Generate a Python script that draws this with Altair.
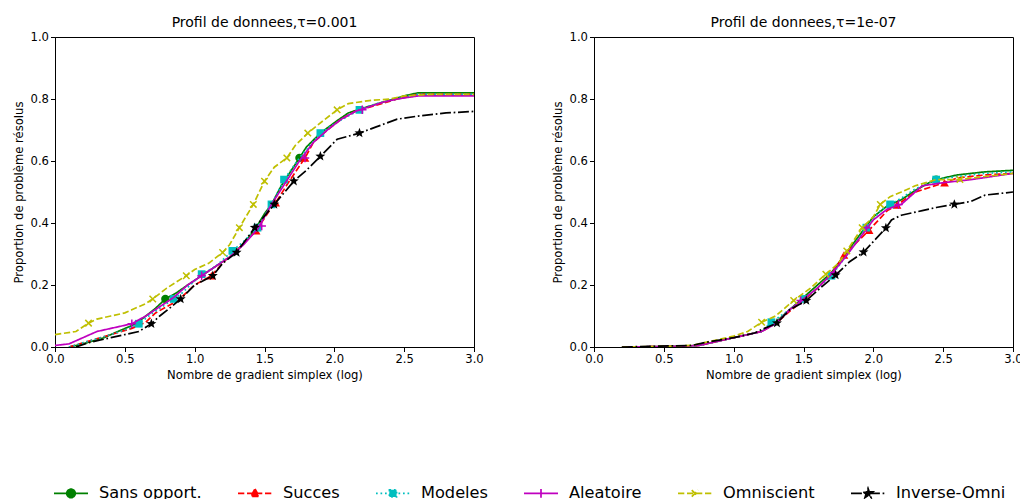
import math
import altair as alt
import pandas as pd

# ---------------- data ----------------
NAMES = ["Sans opport.", "Succes", "Modeles", "Aleatoire", "Omniscient", "Inverse-Omni"]
TITLES = ["Profil de donnees,\u03c4=0.001", "Profil de donnees,\u03c4=1e-07"]
X_TICKS = [0.0, 0.5, 1.0, 1.5, 2.0, 2.5, 3.0]
Y_TICKS = [0.0, 0.2, 0.4, 0.6, 0.8, 1.0]

# --- panel 1 (tau = 0.001) ---
P1_SANS_X = [0.1, 0.2, 0.35, 0.45, 0.58, 0.65, 0.72, 0.79, 0.87, 0.95, 1.05, 1.15, 1.25, 1.3, 1.38, 1.44, 1.5, 1.55, 1.62, 1.75, 1.8, 1.9, 2.02, 2.1, 2.2, 2.35, 2.5, 2.6, 3.0]
P1_SANS_Y = [0.0, 0.01, 0.03, 0.05, 0.075, 0.1, 0.125, 0.155, 0.175, 0.2, 0.23, 0.26, 0.29, 0.31, 0.35, 0.385, 0.43, 0.46, 0.52, 0.61, 0.645, 0.69, 0.73, 0.755, 0.77, 0.79, 0.81, 0.82, 0.82]
P1_SANS_MX = [0.79, 1.75]
P1_SANS_MY = [0.155, 0.61]

P1_SUCC_X = [0.1, 0.25, 0.4, 0.55, 0.65, 0.72, 0.88, 1.0, 1.12, 1.22, 1.3, 1.44, 1.55, 1.58, 1.67, 1.79, 1.85, 1.95, 2.05, 2.15, 2.3, 2.45, 2.6, 3.0]
P1_SUCC_Y = [0.0, 0.02, 0.04, 0.06, 0.08, 0.11, 0.15, 0.2, 0.23, 0.28, 0.31, 0.375, 0.45, 0.465, 0.53, 0.61, 0.66, 0.70, 0.735, 0.76, 0.78, 0.80, 0.815, 0.815]
P1_SUCC_MX = [1.12, 1.44, 1.58, 1.79]
P1_SUCC_MY = [0.23, 0.375, 0.465, 0.61]

P1_MOD_X = [0.1, 0.25, 0.4, 0.5, 0.6, 0.7, 0.8, 0.9, 1.05, 1.15, 1.27, 1.35, 1.45, 1.55, 1.64, 1.75, 1.9, 2.0, 2.1, 2.18, 2.3, 2.45, 2.6, 3.0]
P1_MOD_Y = [0.0, 0.02, 0.04, 0.055, 0.075, 0.11, 0.14, 0.17, 0.235, 0.26, 0.31, 0.34, 0.385, 0.46, 0.54, 0.61, 0.69, 0.72, 0.745, 0.765, 0.785, 0.80, 0.815, 0.815]
P1_MOD_MX = [0.6, 0.85, 1.05, 1.27, 1.45, 1.55, 1.64, 1.9, 2.18]
P1_MOD_MY = [0.075, 0.155, 0.235, 0.31, 0.385, 0.46, 0.54, 0.69, 0.765]

P1_ALEA_X = [0.0, 0.1, 0.2, 0.3, 0.4, 0.55, 0.65, 0.75, 0.85, 0.95, 1.05, 1.15, 1.25, 1.35, 1.45, 1.55, 1.65, 1.75, 1.85, 1.95, 2.05, 2.15, 2.25, 2.35, 2.45, 2.6, 3.0]
P1_ALEA_Y = [0.005, 0.01, 0.03, 0.05, 0.06, 0.075, 0.1, 0.13, 0.16, 0.2, 0.23, 0.26, 0.29, 0.33, 0.38, 0.46, 0.53, 0.6, 0.66, 0.70, 0.735, 0.76, 0.775, 0.79, 0.80, 0.81, 0.81]
P1_ALEA_MX = [0.55, 1.05, 1.48, 1.79, 2.2]
P1_ALEA_MY = [0.075, 0.23, 0.39, 0.61, 0.765]

P1_OMNI_X = [0.0, 0.15, 0.24, 0.3, 0.4, 0.5, 0.55, 0.65, 0.7, 0.8, 0.87, 0.94, 1.0, 1.1, 1.2, 1.25, 1.32, 1.42, 1.5, 1.57, 1.66, 1.72, 1.81, 1.92, 2.02, 2.1, 2.25, 2.4, 2.5, 2.7, 3.0]
P1_OMNI_Y = [0.04, 0.05, 0.077, 0.09, 0.1, 0.11, 0.12, 0.14, 0.155, 0.19, 0.21, 0.23, 0.25, 0.27, 0.305, 0.33, 0.385, 0.46, 0.535, 0.58, 0.61, 0.65, 0.69, 0.73, 0.765, 0.785, 0.795, 0.80, 0.81, 0.815, 0.815]
P1_OMNI_MX = [0.24, 0.7, 0.94, 1.2, 1.32, 1.42, 1.5, 1.66, 1.81, 2.02]
P1_OMNI_MY = [0.077, 0.155, 0.23, 0.305, 0.385, 0.46, 0.535, 0.61, 0.69, 0.765]

P1_INV_X = [0.15, 0.25, 0.4, 0.5, 0.6, 0.69, 0.75, 0.82, 0.9, 1.0, 1.13, 1.2, 1.3, 1.43, 1.57, 1.71, 1.8, 1.9, 2.02, 2.18, 2.3, 2.45, 2.6, 2.8, 3.0]
P1_INV_Y = [0.0, 0.015, 0.03, 0.04, 0.05, 0.075, 0.1, 0.125, 0.155, 0.2, 0.23, 0.27, 0.305, 0.385, 0.46, 0.535, 0.57, 0.615, 0.67, 0.69, 0.71, 0.735, 0.745, 0.755, 0.76]
P1_INV_MX = [0.69, 0.9, 1.13, 1.3, 1.43, 1.57, 1.71, 1.9, 2.18]
P1_INV_MY = [0.075, 0.155, 0.23, 0.305, 0.385, 0.46, 0.535, 0.615, 0.69]

# --- panel 2 (tau = 1e-07) ---
P2_SANS_X = [0.2, 0.6, 0.75, 0.9, 1.0, 1.1, 1.2, 1.3, 1.4, 1.5, 1.6, 1.7, 1.8, 1.9, 2.0, 2.1, 2.2, 2.3, 2.4, 2.5, 2.6, 2.8, 3.0]
P2_SANS_Y = [0.0, 0.002, 0.005, 0.02, 0.03, 0.04, 0.05, 0.08, 0.12, 0.16, 0.2, 0.24, 0.3, 0.36, 0.42, 0.455, 0.475, 0.505, 0.53, 0.545, 0.555, 0.565, 0.57]
P2_SANS_MX = [2.45]
P2_SANS_MY = [0.54]

P2_SUCC_X = [0.2, 0.6, 0.75, 0.9, 1.0, 1.1, 1.2, 1.3, 1.4, 1.5, 1.6, 1.7, 1.79, 1.97, 2.1, 2.17, 2.3, 2.51, 2.6, 2.8, 3.0]
P2_SUCC_Y = [0.0, 0.002, 0.005, 0.02, 0.03, 0.04, 0.05, 0.075, 0.115, 0.15, 0.19, 0.235, 0.297, 0.377, 0.44, 0.458, 0.5, 0.53, 0.545, 0.555, 0.56]
P2_SUCC_MX = [1.79, 1.97, 2.17, 2.51]
P2_SUCC_MY = [0.297, 0.377, 0.458, 0.53]

P2_MOD_X = [0.2, 0.6, 0.75, 0.9, 1.0, 1.1, 1.2, 1.27, 1.4, 1.5, 1.6, 1.7, 1.8, 1.95, 2.05, 2.12, 2.2, 2.3, 2.45, 2.6, 2.8, 3.0]
P2_MOD_Y = [0.0, 0.002, 0.005, 0.02, 0.03, 0.04, 0.05, 0.08, 0.12, 0.155, 0.19, 0.23, 0.29, 0.385, 0.44, 0.46, 0.48, 0.51, 0.54, 0.55, 0.56, 0.565]
P2_MOD_MX = [1.27, 1.5, 1.7, 1.95, 2.12, 2.45]
P2_MOD_MY = [0.08, 0.155, 0.23, 0.385, 0.46, 0.54]

P2_ALEA_X = [0.2, 0.6, 0.75, 0.9, 1.0, 1.1, 1.2, 1.3, 1.4, 1.5, 1.6, 1.7, 1.8, 1.9, 2.0, 2.1, 2.2, 2.35, 2.5, 2.7, 3.0]
P2_ALEA_Y = [0.0, 0.002, 0.005, 0.02, 0.03, 0.04, 0.05, 0.075, 0.12, 0.155, 0.19, 0.235, 0.29, 0.35, 0.41, 0.445, 0.46, 0.52, 0.53, 0.54, 0.56]
P2_ALEA_MX = [1.48, 1.72, 1.95, 2.18]
P2_ALEA_MY = [0.15, 0.24, 0.385, 0.46]

P2_OMNI_X = [0.2, 0.5, 0.7, 0.8, 0.9, 1.0, 1.1, 1.2, 1.3, 1.43, 1.55, 1.66, 1.75, 1.81, 1.92, 2.0, 2.05, 2.12, 2.2, 2.3, 2.45, 2.62, 2.8, 3.0]
P2_OMNI_Y = [0.0, 0.002, 0.005, 0.015, 0.025, 0.035, 0.05, 0.08, 0.1, 0.15, 0.19, 0.235, 0.27, 0.31, 0.385, 0.42, 0.46, 0.485, 0.5, 0.52, 0.54, 0.54, 0.55, 0.56]
P2_OMNI_MX = [1.2, 1.43, 1.66, 1.81, 1.92, 2.05, 2.62]
P2_OMNI_MY = [0.08, 0.15, 0.235, 0.31, 0.385, 0.46, 0.54]

P2_INV_X = [0.2, 0.7, 0.8, 1.0, 1.15, 1.22, 1.31, 1.4, 1.52, 1.62, 1.73, 1.83, 1.93, 2.0, 2.09, 2.13, 2.2, 2.35, 2.45, 2.58, 2.7, 2.8, 3.0]
P2_INV_Y = [0.0, 0.005, 0.015, 0.03, 0.045, 0.06, 0.077, 0.12, 0.15, 0.19, 0.232, 0.275, 0.306, 0.34, 0.384, 0.41, 0.425, 0.44, 0.45, 0.46, 0.47, 0.49, 0.5]
P2_INV_MX = [1.31, 1.52, 1.73, 1.93, 2.09, 2.58]
P2_INV_MY = [0.077, 0.15, 0.232, 0.306, 0.384, 0.46]

PANEL1 = [
    (P1_SANS_X, P1_SANS_Y, P1_SANS_MX, P1_SANS_MY),
    (P1_SUCC_X, P1_SUCC_Y, P1_SUCC_MX, P1_SUCC_MY),
    (P1_MOD_X, P1_MOD_Y, P1_MOD_MX, P1_MOD_MY),
    (P1_ALEA_X, P1_ALEA_Y, P1_ALEA_MX, P1_ALEA_MY),
    (P1_OMNI_X, P1_OMNI_Y, P1_OMNI_MX, P1_OMNI_MY),
    (P1_INV_X, P1_INV_Y, P1_INV_MX, P1_INV_MY),
]
PANEL2 = [
    (P2_SANS_X, P2_SANS_Y, P2_SANS_MX, P2_SANS_MY),
    (P2_SUCC_X, P2_SUCC_Y, P2_SUCC_MX, P2_SUCC_MY),
    (P2_MOD_X, P2_MOD_Y, P2_MOD_MX, P2_MOD_MY),
    (P2_ALEA_X, P2_ALEA_Y, P2_ALEA_MX, P2_ALEA_MY),
    (P2_OMNI_X, P2_OMNI_Y, P2_OMNI_MX, P2_OMNI_MY),
    (P2_INV_X, P2_INV_Y, P2_INV_MX, P2_INV_MY),
]

# ---------------- styles ----------------
COLORS = ["#008000", "#ff0000", "#00bfbf", "#bf00bf", "#bfbf00", "#000000"]
LW = 1.7
DASHES = [[1, 0], [6.3, 2.7], [1.7, 2.8], [1, 0], [6.3, 2.7], [10.9, 2.7, 1.7, 2.7]]


def star(r_out, r_in):
    pts = []
    for i in range(10):
        r = r_out if i % 2 == 0 else r_in
        a = math.radians(-90 + 36 * i)
        pts.append(f"{r * math.cos(a):.3f},{r * math.sin(a):.3f}")
    return "M" + "L".join(pts) + "Z"


# plot marker: (shape, size, filled)
MARKERS = [
    ("circle", 70, True),
    ("triangle-up", 75, True),
    ("square", 60, True),
    ("M0,-1L0,1M-1,0L1,0", 72, False),
    ("M-1,-1L1,1M-1,1L1,-1", 42, False),
    (star(1.0, 0.42), 110, True),
]

LINE = "M-1,0L1,0"
LEG_SHAPES = [
    LINE + "M-0.25,0A0.25,0.25 0 1,0 0.25,0A0.25,0.25 0 1,0 -0.25,0Z",
    LINE + "M0,-0.26L0.24,0.17L-0.24,0.17Z",
    LINE + "M-0.21,-0.21L0.21,-0.21L0.21,0.21L-0.21,0.21Z",
    LINE + "M0,-0.26L0,0.26M-0.26,0L0.26,0",
    LINE + "M-0.19,-0.19L0.19,0.19M-0.19,0.19L0.19,-0.19",
    LINE + star(0.3, 0.12),
]

FONT = "DejaVu Sans"

x_enc = alt.X("x:Q", scale=alt.Scale(domain=[0, 3], nice=False, zero=False),
              axis=alt.Axis(values=X_TICKS, format=".1f", title="Nombre de gradient simplex (log)"))
y_enc = alt.Y("y:Q", scale=alt.Scale(domain=[0, 1], nice=False),
              axis=alt.Axis(values=Y_TICKS, format=".1f", title="Proportion de problème résolus"))


def panel(series, title):
    layers = []
    for i, (xs, ys, mxs, mys) in enumerate(series):
        dline = pd.DataFrame({"x": xs, "y": ys})
        layers.append(
            alt.Chart(dline).mark_line(color=COLORS[i], strokeWidth=LW, strokeDash=DASHES[i], clip=True)
            .encode(x=x_enc, y=y_enc)
        )
        dpts = pd.DataFrame({"x": mxs, "y": mys})
        shape, size, filled = MARKERS[i]
        layers.append(
            alt.Chart(dpts).mark_point(shape=shape, size=size, filled=filled, color=COLORS[i],
                                       opacity=1, strokeWidth=1.5, clip=True)
            .encode(x=x_enc, y=y_enc)
        )
    return alt.layer(*layers).properties(width=419, height=310, title=title)


left = panel(PANEL1, TITLES[0])
right = panel(PANEL2, TITLES[1])

# legend-only chart (points drawn outside a clipped 1px view)
leg_df = pd.DataFrame({"name": NAMES})
legend = alt.Legend(title=None, orient="none", legendX=-2, legendY=438, direction="horizontal",
                    columns=6, symbolSize=1156, labelFont=FONT, labelFontSize=16.2,
                    labelColor="black", labelOffset=10, columnPadding=32,
                    symbolStrokeWidth=LW, padding=0)
legend_chart = alt.Chart(leg_df).mark_point(filled=True, opacity=1, size=1156, strokeWidth=LW, clip=True).encode(
    x=alt.value(-100), y=alt.value(-100),
    fill=alt.Fill("name:N", scale=alt.Scale(domain=NAMES, range=COLORS), legend=legend),
    stroke=alt.Stroke("name:N", scale=alt.Scale(domain=NAMES, range=COLORS), legend=legend),
    shape=alt.Shape("name:N", scale=alt.Scale(domain=NAMES, range=LEG_SHAPES), legend=legend),
    strokeDash=alt.StrokeDash("name:N", scale=alt.Scale(domain=NAMES, range=DASHES), legend=legend),
).properties(width=1, height=1, view=alt.ViewBackground(stroke="transparent"))

chart = alt.vconcat(
    alt.hconcat(left, right, spacing=67),
    legend_chart,
    spacing=0,
).properties(
    padding={"left": 12, "top": 15, "right": -3, "bottom": -3}
).configure_view(
    stroke="black", strokeWidth=1
).configure_axis(
    grid=False, domainColor="black", domainWidth=1, tickColor="black", tickWidth=1, tickSize=4.5,
    labelColor="black", titleColor="black", labelFont=FONT, titleFont=FONT,
    labelFontSize=11.6, titleFontSize=11.6, titleFontWeight="normal", labelPadding=2,
    labelFlush=False, labelOverlap=False,
).configure_axisX(titlePadding=4).configure_axisY(titlePadding=6).configure_title(
    font=FONT, fontSize=14, fontWeight="normal", color="black", anchor="middle", offset=1
)

chart.save("out.html", embed_options={"renderer": "svg", "actions": False})
